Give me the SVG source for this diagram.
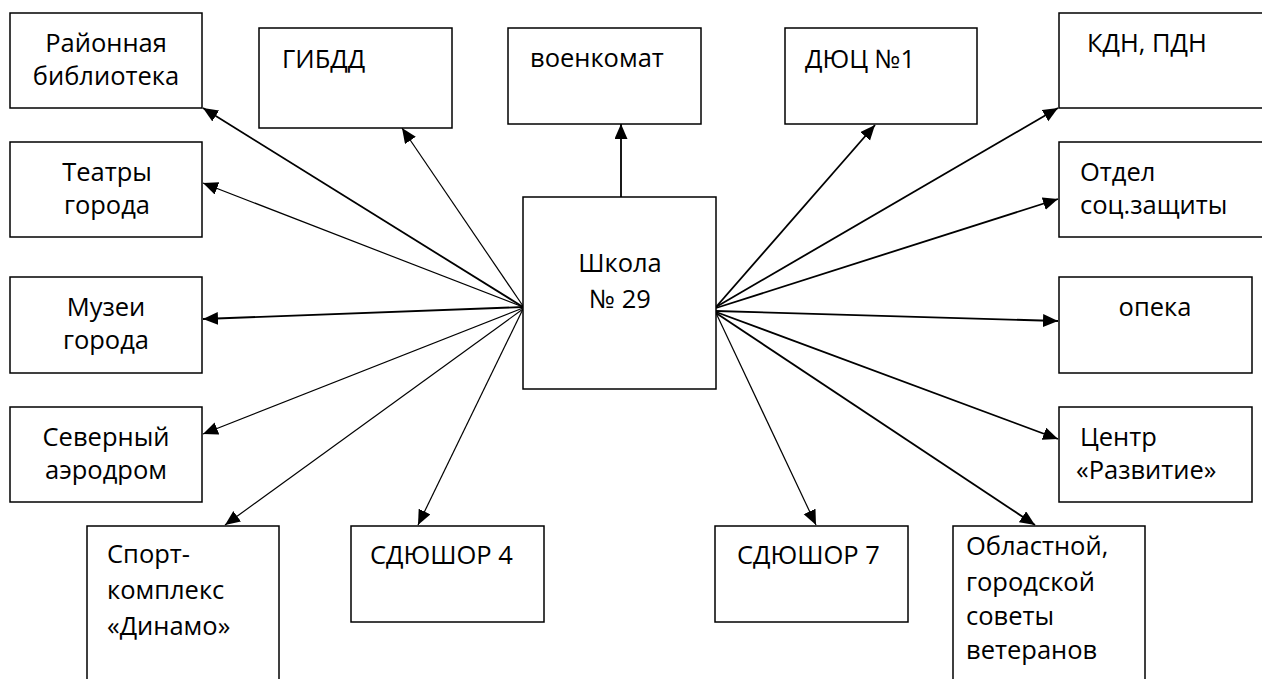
<svg xmlns="http://www.w3.org/2000/svg" width="1262" height="679" viewBox="0 0 1262 679">
<style>
  rect.box { fill: #ffffff; stroke: #000000; stroke-width: 1.5; }
  text { font-family: "Open Sans", "Liberation Sans", sans-serif; font-size: 25.5px; fill: #000000; }
  .c { text-anchor: middle; }
  line.thick { stroke: #000000; stroke-width: 1.8; marker-end: url(#ah); }
  line.thin { stroke: #000000; stroke-width: 1.2; marker-end: url(#ah); }
</style>
<defs>
  <marker id="ah" markerUnits="userSpaceOnUse" markerWidth="16" markerHeight="14" refX="15" refY="6.5" orient="auto">
    <path d="M0,0 L15,6.5 L0,13 Z" fill="#000000"/>
  </marker>
</defs>
<rect x="0" y="0" width="1262" height="679" fill="#ffffff"/>

<g id="connectors">
  <line class="thick" x1="523" y1="307" x2="203" y2="108"/>
  <line class="thin" x1="523" y1="307" x2="203" y2="183"/>
  <line class="thick" x1="523" y1="307" x2="203" y2="319"/>
  <line class="thin" x1="523" y1="308" x2="203" y2="434"/>
  <line class="thin" x1="523" y1="309" x2="225" y2="525"/>
  <line class="thin" x1="523" y1="309" x2="418" y2="525"/>
  <line class="thin" x1="523" y1="306" x2="402" y2="128"/>
  <line class="thick" x1="621" y1="197" x2="621" y2="124"/>
  <line class="thick" x1="716" y1="307" x2="875" y2="125"/>
  <line class="thick" x1="716" y1="307" x2="1058" y2="108"/>
  <line class="thick" x1="716" y1="308" x2="1058" y2="199"/>
  <line class="thick" x1="716" y1="311" x2="1058" y2="321"/>
  <line class="thick" x1="716" y1="312" x2="1058" y2="439"/>
  <line class="thin" x1="716" y1="313" x2="816" y2="525"/>
  <line class="thick" x1="716" y1="313" x2="1035" y2="525"/>
</g>

<g id="school">
  <rect class="box" x="523" y="197" width="193" height="192"/>
  <text class="c" x="620" y="272">Школа</text>
  <text class="c" x="620" y="308">№ 29</text>
</g>
<g id="library">
  <rect class="box" x="10" y="13" width="192" height="95"/>
  <text class="c" x="106" y="52">Районная</text>
  <text class="c" x="106" y="85">библиотека</text>
</g>
<g id="gibdd">
  <rect class="box" x="259" y="28" width="193" height="100"/>
  <text x="282" y="68">ГИБДД</text>
</g>
<g id="voenkomat">
  <rect class="box" x="508" y="28" width="193" height="96"/>
  <text x="530" y="67">военкомат</text>
</g>
<g id="duc">
  <rect class="box" x="785" y="28" width="192" height="96"/>
  <text x="805" y="68">ДЮЦ №1</text>
</g>
<g id="kdn">
  <rect class="box" x="1059" y="13" width="220" height="95"/>
  <text x="1087" y="52">КДН, ПДН</text>
</g>
<g id="theatres">
  <rect class="box" x="10" y="142" width="192" height="95"/>
  <text class="c" x="107" y="181">Театры</text>
  <text class="c" x="107" y="214">города</text>
</g>
<g id="social">
  <rect class="box" x="1059" y="142" width="220" height="95"/>
  <text x="1080" y="181">Отдел</text>
  <text x="1080" y="214">соц.защиты</text>
</g>
<g id="museums">
  <rect class="box" x="10" y="277" width="192" height="96"/>
  <text class="c" x="106" y="316">Музеи</text>
  <text class="c" x="106" y="349">города</text>
</g>
<g id="opeka">
  <rect class="box" x="1059" y="277" width="193" height="96"/>
  <text class="c" x="1155" y="316">опека</text>
</g>
<g id="aerodrome">
  <rect class="box" x="10" y="407" width="192" height="95"/>
  <text class="c" x="106" y="446">Северный</text>
  <text class="c" x="106" y="479">аэродром</text>
</g>
<g id="razvitie">
  <rect class="box" x="1059" y="407" width="193" height="95"/>
  <text x="1080" y="446">Центр</text>
  <text x="1076" y="479">«Развитие»</text>
</g>
<g id="dinamo">
  <rect class="box" x="87" y="526" width="192" height="200"/>
  <text x="107" y="563">Спорт-</text>
  <text x="107" y="599">комплекс</text>
  <text x="107" y="635">«Динамо»</text>
</g>
<g id="sdushor4">
  <rect class="box" x="351" y="526" width="193" height="96"/>
  <text x="370" y="564">СДЮШОР 4</text>
</g>
<g id="sdushor7">
  <rect class="box" x="715" y="526" width="193" height="96"/>
  <text x="737" y="564">СДЮШОР 7</text>
</g>
<g id="veterans">
  <rect class="box" x="953" y="526" width="192" height="200"/>
  <text x="966" y="555">Областной,</text>
  <text x="966" y="591">городской</text>
  <text x="966" y="625">советы</text>
  <text x="966" y="659">ветеранов</text>
</g>
</svg>
